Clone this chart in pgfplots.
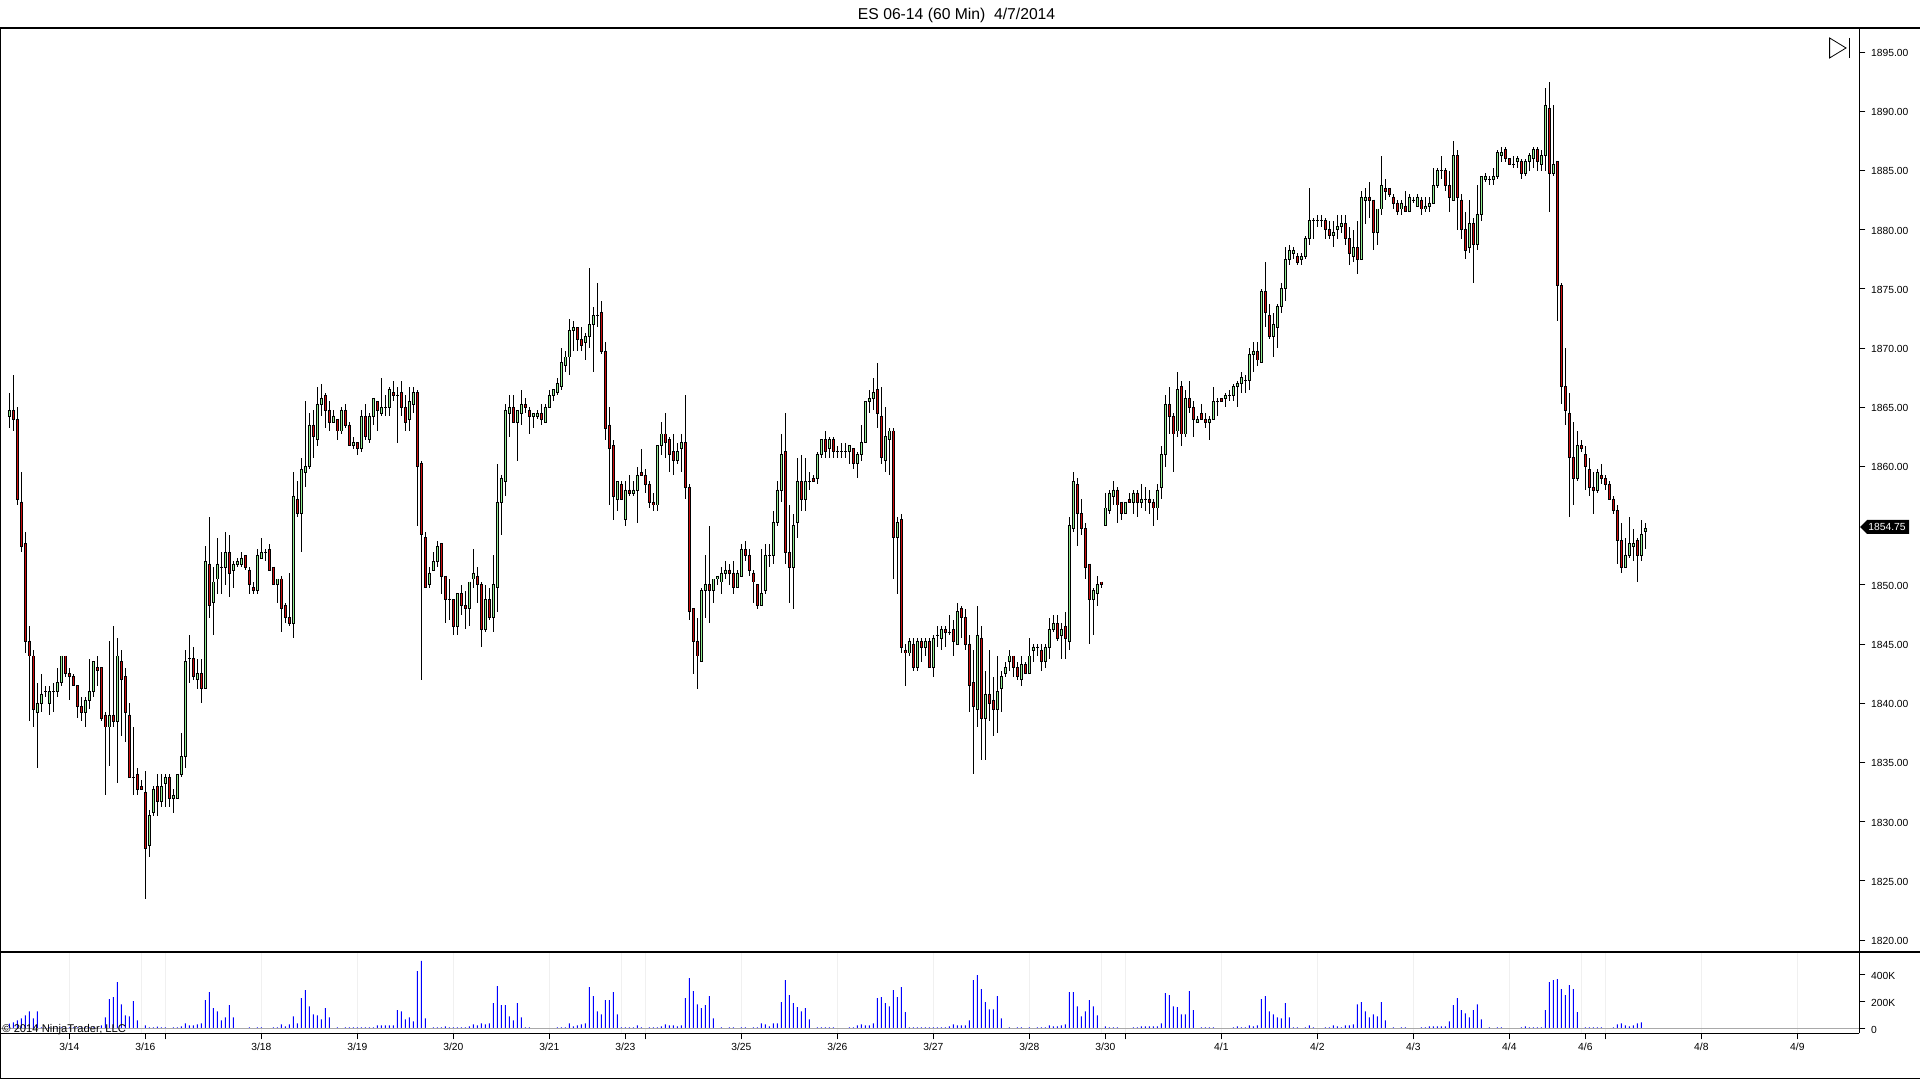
\documentclass[border=0pt]{standalone}
\usepackage{pgfplots}
\usepackage{pgfplotstable}
\usepackage{fontspec}
\setmainfont{Liberation Sans}
\pgfplotsset{compat=1.18}
\definecolor{upbody}{RGB}{144,238,144}
\definecolor{downbody}{RGB}{204,12,12}
\definecolor{gridc}{RGB}{240,240,240}
\definecolor{zeroc}{RGB}{169,169,169}
\pgfplotstableread{
i h l t b d
0 1866.25 1863.25 1864.75 1864.25 1
1 1867.75 1863 1864.75 1864 0
2 1865 1856.75 1864 1857.25 0
3 1859.5 1852.75 1857 1853.25 0
4 1854.5 1844.25 1853.5 1845.25 0
5 1846.5 1838.5 1845.25 1844 0
6 1844.5 1838 1844 1839.5 0
7 1841.75 1834.5 1840 1839.25 1
8 1842.5 1839.25 1840.75 1840 1
9 1841.5 1840.5 1841 1841 1
10 1841.5 1839 1841 1840 1
11 1841.75 1839.25 1841 1841 1
12 1843 1840.5 1841.75 1841 1
13 1844 1841.5 1844 1841.75 1
14 1844 1842.25 1844 1842.5 0
15 1843 1840.25 1842.5 1842.25 0
16 1842.5 1841.5 1842.25 1841.5 0
17 1841.5 1838.75 1841.5 1839.75 0
18 1840.5 1838.5 1839.75 1839.25 0
19 1840.5 1838 1840.25 1839.25 1
20 1843.75 1839.5 1841 1840.25 1
21 1843.5 1840.5 1843.5 1841 1
22 1844 1841.5 1843 1842.75 0
23 1843 1838.5 1843 1838.75 0
24 1839.25 1832.25 1839 1838 0
25 1845.25 1834.75 1839 1838 1
26 1846.5 1838 1839 1838.5 0
27 1845.5 1833.25 1844 1838.5 1
28 1844.5 1837.25 1843.5 1842 0
29 1843 1836.75 1842.25 1839.25 0
30 1840 1833.75 1839 1833.75 0
31 1838 1832.25 1833.75 1833.75 1
32 1834.5 1832.25 1834 1832.75 0
33 1833.5 1832.75 1833 1832.75 0
34 1834.25 1823.5 1832.5 1827.75 0
35 1831 1827 1830.5 1828 1
36 1833 1830.5 1832.75 1830.75 1
37 1834 1830.5 1833 1831.75 0
38 1834 1831.25 1833 1831.75 1
39 1834 1831.25 1833.75 1833.25 1
40 1834 1831.25 1833.75 1832 0
41 1832.75 1830.75 1832.25 1832 1
42 1834 1832 1834 1832 1
43 1837.5 1833.75 1835.5 1834 1
44 1844.5 1834.5 1843.5 1835.5 1
45 1845.75 1841.75 1843.75 1843.75 1
46 1844.75 1842 1843.75 1842.25 0
47 1843.75 1841.25 1842.5 1842 1
48 1843.75 1840 1842.5 1841.25 0
49 1853.25 1841.25 1852 1841.25 1
50 1855.75 1847.25 1851.75 1848.25 0
51 1851.5 1845.75 1850.25 1848.5 1
52 1854 1849.25 1851.75 1850.5 1
53 1852.75 1849.25 1851.5 1851.5 1
54 1854.5 1850 1852.75 1851.5 1
55 1854.25 1849 1852.75 1851 0
56 1852 1849.75 1851.75 1851.25 1
57 1852.25 1851.5 1852 1851.75 1
58 1852.75 1851.5 1852.25 1851.75 1
59 1852.5 1851.25 1852.5 1851.5 0
60 1851.5 1849.25 1851.25 1850 0
61 1850.25 1849.25 1849.75 1849.5 0
62 1853 1849.25 1852.5 1849.5 1
63 1854 1852.25 1852.75 1852.25 1
64 1853 1852 1852.75 1852.75 1
65 1853.5 1851.25 1853 1851.25 0
66 1851.5 1850 1851.5 1850 0
67 1850.5 1848.5 1850.5 1850 1
68 1850.75 1846 1850.5 1848 0
69 1848.5 1846.75 1848.25 1847.25 0
70 1851 1846.5 1847.25 1846.75 0
71 1859.5 1845.5 1857.5 1846.75 1
72 1858.75 1855.75 1857.25 1856 0
73 1860.75 1852.75 1859.75 1856 1
74 1865.5 1858.25 1860 1859.5 1
75 1864.5 1859.75 1863.5 1860 1
76 1864.75 1860.75 1863.5 1862.5 0
77 1866.75 1861.75 1865.25 1862.25 1
78 1867 1864.25 1865.75 1865.25 1
79 1866.25 1863.25 1866 1864.75 0
80 1865.5 1863 1864.75 1863.75 0
81 1864.75 1863.75 1864.25 1863.75 1
82 1864 1862.25 1864 1863 0
83 1865 1862.75 1864.75 1863 1
84 1865.25 1863.25 1864.75 1863.5 0
85 1863.75 1861.75 1863.5 1861.75 0
86 1862.5 1861.5 1862 1861.75 1
87 1862 1861 1862 1861.5 0
88 1864.75 1861.25 1864.25 1861.5 1
89 1865.25 1862.25 1864.25 1862.5 0
90 1864.5 1862 1864.25 1862.25 1
91 1865.75 1863.5 1865.75 1864.25 1
92 1865.5 1863 1865.5 1864.75 0
93 1867.5 1864.25 1865 1864.5 1
94 1866 1864.25 1865 1865 1
95 1866.75 1864.25 1866.5 1865 1
96 1867.25 1865.5 1866.25 1866 0
97 1866.75 1862 1866 1866 1
98 1867.25 1864.25 1866.25 1865 0
99 1866 1863 1865 1863.75 0
100 1866.75 1863 1865.5 1864 1
101 1866.75 1864.5 1866.25 1865.25 1
102 1866.5 1855 1866.25 1860 0
103 1860.5 1842 1860.25 1854.25 0
104 1854.5 1849.75 1854 1849.75 0
105 1851.5 1849.75 1851 1850 1
106 1852.75 1851.25 1852 1851.25 1
107 1853.75 1851.5 1853.25 1852 1
108 1853.5 1849.25 1853.5 1850.75 0
109 1850.75 1846.75 1850.75 1848.75 0
110 1850.5 1847 1848.75 1848.75 1
111 1848.75 1845.75 1848.75 1846.5 0
112 1849.25 1845.75 1849.25 1846.5 1
113 1850 1847.5 1849.25 1848.25 0
114 1849.5 1846.25 1848.25 1848 0
115 1850.25 1846.5 1850.25 1848 1
116 1853 1849.75 1851 1850.5 1
117 1851.5 1848.5 1850.75 1850 0
118 1850.25 1844.75 1850 1846.25 0
119 1850 1846 1848.75 1846.25 1
120 1849.75 1847 1848.75 1847.25 0
121 1852.5 1846 1850 1847.25 1
122 1860.25 1847.75 1857 1849.75 1
123 1859.25 1854.25 1859 1857 1
124 1865.25 1857.5 1864.75 1858.75 1
125 1866 1862.5 1865 1864.5 1
126 1866 1863.75 1865 1863.75 0
127 1864.75 1860.5 1864.75 1863.75 1
128 1866.5 1863.5 1865.25 1864.5 1
129 1865.75 1864.5 1865.25 1865 0
130 1865 1862.75 1864.75 1864.25 0
131 1864.5 1863.25 1864.5 1864.25 1
132 1864.75 1864 1864.5 1864.25 1
133 1865.25 1863.5 1864.5 1864 0
134 1865.25 1863.75 1865 1863.75 1
135 1866.5 1865 1866 1865 1
136 1866.5 1865.5 1866.5 1866 1
137 1867.5 1866 1867 1866.25 1
138 1870 1866.5 1868.75 1866.75 1
139 1869.75 1868 1869.25 1868.5 1
140 1872.5 1867.75 1871.5 1869.25 1
141 1872.25 1869.75 1871.75 1871.5 1
142 1871.75 1869.75 1871.75 1870.75 0
143 1871.75 1869.75 1870.75 1870.25 0
144 1871.25 1869 1871 1870.5 1
145 1876.75 1870 1872 1871 1
146 1873.5 1868 1872.75 1872 1
147 1875.5 1871.75 1872.75 1872.75 1
148 1874 1869.5 1873 1869.75 0
149 1870.5 1862.25 1869.75 1863.25 0
150 1865 1856.75 1863.5 1861.5 0
151 1862.25 1855.5 1861.75 1857.5 0
152 1858.75 1856.25 1858.75 1857.25 1
153 1858.75 1857.25 1858.5 1857.25 0
154 1858.75 1855 1858 1855.5 1
155 1859.25 1857.5 1858 1857.75 0
156 1858.75 1857.5 1858 1857.75 1
157 1860 1855.25 1859.25 1858 1
158 1861.5 1859.25 1859.5 1859.25 0
159 1859.75 1857.75 1859.25 1858.5 0
160 1858.75 1856.5 1858.5 1857 0
161 1857.75 1856.25 1857 1856.75 0
162 1861.75 1856.25 1861.75 1856.75 1
163 1863.75 1861 1862.75 1861.75 1
164 1864.5 1860.75 1862.75 1862 0
165 1862.5 1859.5 1862.25 1861 0
166 1862.75 1859.25 1861.25 1860.5 0
167 1862 1860.25 1861.25 1860.5 1
168 1862.75 1859.5 1862 1861.5 1
169 1866 1857.25 1862 1858.25 0
170 1858.5 1847 1858.25 1847.75 0
171 1848 1842.5 1848 1845.25 0
172 1847.25 1841.25 1845.25 1844 0
173 1849.75 1843.5 1849.5 1843.5 1
174 1852.5 1847.25 1850 1849.5 1
175 1855 1846.75 1850 1849.5 0
176 1850.5 1848.5 1850.5 1849.5 1
177 1850.75 1850 1850.75 1850.5 1
178 1851.5 1849.25 1851 1850.25 1
179 1852 1850.5 1851.25 1851 1
180 1851.75 1850 1851.25 1851 0
181 1852 1849.25 1851 1849.75 0
182 1851.25 1849.75 1851 1849.75 1
183 1853.5 1850.75 1853 1850.75 1
184 1853.75 1852 1853 1852.5 0
185 1853 1850.75 1852.5 1851.25 0
186 1851.25 1848.5 1851 1850.25 0
187 1850 1848 1850 1848.25 0
188 1853 1848.25 1849.25 1848.25 1
189 1853.5 1849.25 1852.5 1849.5 1
190 1853.5 1851.5 1852.5 1852.5 1
191 1856.25 1851.75 1855.25 1852.5 1
192 1858.75 1855 1858 1855.25 1
193 1862.75 1857 1861 1858 1
194 1864.5 1851.75 1861.25 1852.75 0
195 1856.75 1848.5 1852.75 1851.5 0
196 1856 1848 1855 1851.5 1
197 1860.75 1854 1858.75 1855.25 1
198 1861 1856.25 1858.75 1857.25 0
199 1860.75 1856.25 1858.75 1857.25 1
200 1859.5 1858 1858.75 1858.75 1
201 1859.25 1858.75 1859 1858.75 0
202 1861.25 1858.5 1861 1859 1
203 1862.25 1860.75 1862.25 1861 1
204 1863 1860.75 1862.25 1861.25 0
205 1862.5 1860.75 1862.25 1861.5 1
206 1862.5 1860.75 1862.25 1861.25 0
207 1861.75 1860.75 1861.25 1861.25 1
208 1862 1860.75 1861.25 1861.25 1
209 1862 1860.75 1861.25 1861.25 1
210 1861.75 1860.25 1861.75 1861.25 1
211 1861.5 1859.75 1861.5 1860.25 0
212 1861.25 1859 1861 1860.25 1
213 1863.5 1860.5 1862 1861 1
214 1865.5 1862 1865.5 1862 1
215 1866.5 1864.5 1865.75 1865.5 1
216 1867.5 1864.75 1866.25 1865.75 1
217 1868.75 1863.25 1866.5 1864.5 0
218 1866.75 1860.25 1864.25 1860.75 0
219 1865 1859.5 1862.5 1860.5 1
220 1863.25 1859.25 1863 1862.25 1
221 1863.25 1850.5 1863 1854 0
222 1855.75 1849.25 1855.25 1854 1
223 1856 1844.25 1855.5 1844.75 0
224 1845 1841.5 1844.5 1844.25 0
225 1845.5 1844 1845.25 1844.25 1
226 1845.5 1842.75 1845 1843 0
227 1845.5 1842.75 1845.25 1843 1
228 1845.5 1843.5 1845.25 1844.75 0
229 1845.5 1844 1845.25 1844.75 1
230 1845.5 1843 1845.25 1843 0
231 1845.75 1842.25 1845.5 1843 1
232 1846.5 1844.75 1845.75 1845.75 1
233 1846.5 1844.5 1846.25 1845.5 1
234 1846.5 1844.75 1846.25 1846 0
235 1847.5 1845.75 1846 1846 1
236 1847 1844 1846.25 1845.25 0
237 1848.5 1845 1847.75 1845 1
238 1848.25 1845.5 1848 1847.25 0
239 1848 1844.5 1847.25 1845 0
240 1845.75 1839.25 1845 1841.5 0
241 1844.5 1834 1841.75 1839.75 0
242 1848.25 1838 1845.75 1839.5 1
243 1846.5 1835.25 1845.5 1838.75 0
244 1842.75 1835.25 1840.75 1838.75 1
245 1844.5 1838.5 1840.75 1840 0
246 1842.25 1837.25 1840.25 1839.5 0
247 1844 1837.5 1841 1839.5 1
248 1842.75 1839.25 1842.25 1841.25 1
249 1843.5 1842.25 1843 1842.5 1
250 1844.5 1842.75 1844 1843.5 1
251 1844 1842.25 1844 1843 0
252 1843.5 1842 1843 1842.25 0
253 1844 1841.5 1843.25 1842 1
254 1843.5 1842.5 1843.25 1842.5 0
255 1845.5 1842.5 1844 1842.5 1
256 1845 1843.5 1844.75 1844.5 1
257 1845 1844 1844.75 1844.75 1
258 1845 1842.75 1844.5 1843.5 0
259 1845 1843 1844.75 1843.5 1
260 1847.25 1843.75 1846.25 1844.75 1
261 1847.5 1846 1846.75 1846.25 1
262 1847.5 1845.25 1846.75 1845.5 0
263 1846.75 1843.75 1846.25 1845.75 1
264 1847.75 1843.75 1846.5 1845.5 0
265 1855.75 1844.5 1855 1845.25 1
266 1859.5 1854.5 1858.75 1854.75 1
267 1859 1853.25 1858.5 1856 0
268 1857.25 1854.25 1856 1854.75 0
269 1855.25 1850.5 1854.75 1851.5 0
270 1851.75 1845 1851.75 1848.75 0
271 1849.75 1845.75 1849.5 1848.75 1
272 1850.75 1848.25 1850 1849.25 1
273 1850.25 1849.75 1850.25 1850 0
274 1857.75 1855 1856.5 1855 1
275 1858 1856 1857.75 1856.25 1
276 1858.75 1856.75 1858 1857.5 1
277 1858.25 1855.25 1858 1856.75 0
278 1857 1855.5 1857 1856 0
279 1857 1856 1857 1856 1
280 1857.75 1857 1857.25 1857 0
281 1858 1856 1857.75 1857 1
282 1858 1855.75 1857.75 1857 0
283 1858.5 1856.5 1857.25 1857 1
284 1858.25 1856.25 1857.25 1857.25 1
285 1858 1856 1857.25 1857 0
286 1857.25 1855 1857 1856.5 0
287 1858.5 1855.5 1858 1856.5 1
288 1861.75 1857.25 1861 1858.25 1
289 1866 1860 1865.25 1861 1
290 1866.75 1862.75 1865.25 1864.25 0
291 1864.5 1859.5 1864.25 1862.75 0
292 1868 1862.5 1866.5 1863 1
293 1867.25 1861.75 1866.75 1862.75 0
294 1866.5 1862.5 1865.75 1862.75 1
295 1867.25 1864.5 1865.75 1865 0
296 1865.5 1862.5 1865 1864 0
297 1864.25 1863.75 1864 1863.75 1
298 1865.25 1864 1864.5 1864 0
299 1864.5 1863.25 1864 1863.75 0
300 1864.25 1862.25 1864 1863.75 1
301 1866.75 1864 1865.5 1864 1
302 1865.75 1864.25 1865.5 1865.5 1
303 1865.75 1865.5 1865.75 1865.5 0
304 1866.25 1865 1866 1865.75 1
305 1866.5 1865.5 1866 1866 1
306 1867 1865.5 1866.75 1866 1
307 1867.25 1865 1867 1866.75 1
308 1868 1866.25 1867.5 1867 1
309 1867.75 1866.25 1867.25 1867.25 1
310 1870 1866.5 1869.5 1867.25 1
311 1870.5 1868 1869.75 1869.5 1
312 1870.5 1868.5 1869.75 1869 0
313 1875 1868.75 1874.75 1868.75 1
314 1877.25 1871.75 1874.75 1873 0
315 1873.75 1870.75 1872.75 1871 0
316 1873 1869.25 1872 1871 1
317 1873.75 1870 1873.5 1871.75 1
318 1875.5 1873 1875 1873.5 1
319 1878.5 1874 1877.5 1875 1
320 1878.75 1877 1878.25 1877.5 1
321 1878.5 1877.5 1878.25 1878 1
322 1878 1877 1877.75 1877.25 0
323 1878 1877 1877.75 1877.5 1
324 1879.5 1877.5 1879.25 1877.75 1
325 1883.5 1878.75 1880.75 1879.25 1
326 1881 1879.25 1880.75 1880.75 1
327 1881.25 1880.25 1880.75 1880.75 1
328 1881.25 1880.25 1880.75 1880.75 1
329 1881 1879.25 1880.75 1880 0
330 1880.75 1879.25 1880 1879.5 0
331 1880.75 1878.5 1879.75 1879.5 1
332 1881.25 1879.25 1880.25 1880 1
333 1881.25 1879.75 1880.5 1880.25 1
334 1881.25 1878.75 1880.5 1879.25 0
335 1880.25 1877 1879.25 1878 0
336 1880 1877.25 1878.5 1877.75 1
337 1880.75 1876.25 1878.5 1877.5 0
338 1883.25 1877.5 1882.75 1877.5 1
339 1883.5 1880.5 1882.75 1882.5 1
340 1884 1881 1882.75 1882.5 0
341 1882.5 1878.25 1882.5 1879.75 0
342 1881.75 1878.75 1881.75 1879.75 1
343 1886.25 1881.25 1883.75 1881.75 1
344 1884.25 1882.5 1883.5 1883.25 0
345 1883.5 1882.75 1883.5 1883 0
346 1883 1881.75 1882.75 1882.25 0
347 1882.5 1881.25 1882.25 1881.5 0
348 1882.5 1881.25 1882.25 1881.75 1
349 1883.25 1881.5 1882 1881.5 0
350 1883 1881.5 1882.75 1881.5 1
351 1882.75 1882.25 1882.5 1882.5 1
352 1883 1882 1882.75 1882 1
353 1882.75 1881.25 1882.5 1881.75 0
354 1882.75 1881.5 1882 1881.75 1
355 1882.75 1881.5 1882.25 1882 1
356 1885.25 1882.25 1883.75 1882.25 1
357 1885.25 1883.5 1885 1883.75 1
358 1886.25 1884.25 1885 1885 1
359 1885.25 1883.25 1885 1883.75 0
360 1885 1881.5 1883.75 1882.75 0
361 1887.5 1882.5 1886.25 1882.5 1
362 1886.75 1880 1886.25 1882.75 0
363 1883 1879.25 1882.5 1880 0
364 1881.5 1877.5 1880 1878.25 0
365 1882.5 1878 1880.5 1878.5 1
366 1881 1875.5 1880.5 1878.75 0
367 1883.75 1878.25 1881.25 1878.75 1
368 1884.5 1880.75 1884.5 1881.25 1
369 1884.75 1884 1884.5 1884.25 1
370 1884.5 1883.75 1884.25 1884.25 1
371 1885.25 1883.75 1884.5 1884.25 1
372 1886.75 1884.25 1886.5 1884.5 1
373 1887 1885.75 1886.5 1886.25 1
374 1887 1885.75 1886.75 1886 0
375 1886 1885.5 1886 1885.5 0
376 1886.25 1885.25 1885.5 1885.5 1
377 1886.25 1885.25 1886 1885.75 1
378 1886 1884.25 1885.75 1884.75 0
379 1886 1884.5 1885.75 1884.75 1
380 1886.5 1885 1886.25 1885.75 1
381 1887 1885.25 1886.75 1886 1
382 1887 1885 1886.75 1885.75 0
383 1886.75 1885 1886.25 1885.5 1
384 1892 1885 1890.5 1886.25 1
385 1892.5 1881.5 1890.25 1884.75 0
386 1890.5 1884.5 1885.5 1884.75 1
387 1885.75 1872.25 1885.75 1875.25 0
388 1875.5 1865.25 1875.25 1866.75 0
389 1870 1863.5 1866.75 1864.75 0
390 1866.25 1855.75 1864.5 1860.75 0
391 1863.75 1856.75 1860.75 1859 0
392 1863 1858.75 1861.75 1859 1
393 1862.25 1861.25 1861.75 1861.5 0
394 1861.75 1858 1861 1860 0
395 1860.75 1857.5 1859.75 1858.25 0
396 1859.5 1856 1858.25 1858 0
397 1859.75 1857.75 1859.5 1858 1
398 1860.25 1858.5 1859.25 1859 0
399 1859.25 1858 1859 1858.5 0
400 1858.75 1857.25 1858.5 1857.25 0
401 1857.5 1856 1857.25 1856.25 0
402 1856.75 1851.75 1856.25 1853.75 0
403 1855.25 1851 1853.75 1851.5 0
404 1854 1851.5 1852.5 1851.5 1
405 1855.75 1852.25 1853.5 1852.5 1
406 1854.75 1852 1853.5 1853.25 1
407 1854 1850.25 1853.75 1852.5 0
408 1855.5 1852 1854.25 1852.5 1
409 1855.25 1853 1854.75 1854.5 1
}\ohlc
\pgfplotstableread{
i v
0 37
1 47
2 62
3 77
4 99
5 129
6 77
7 129
8 10
9 10
10 10
11 10
12 10
13 10
14 10
15 10
16 10
17 10
18 10
19 10
20 10
21 10
22 10
23 25
24 84
25 219
26 233
27 345
28 181
29 99
30 92
31 204
32 62
34 25
35 10
36 10
37 15
38 10
39 10
41 10
42 10
43 17
44 40
45 25
46 25
47 32
48 40
49 211
50 271
51 152
52 129
53 62
54 84
55 174
56 84
60 10
62 10
63 10
66 10
67 10
68 32
69 17
70 32
71 92
72 40
73 226
74 286
75 166
76 107
77 99
78 70
79 152
80 84
82 10
84 10
85 10
86 10
87 10
88 10
89 10
90 10
91 10
92 25
93 25
94 25
95 25
96 25
97 137
98 129
99 70
100 84
101 55
102 427
103 502
104 77
106 10
107 10
108 10
109 17
110 10
111 10
112 10
113 10
114 10
115 17
116 32
117 25
118 40
119 32
120 40
121 189
122 315
123 174
124 174
125 92
126 62
127 189
128 84
129 10
130 10
137 10
138 10
139 10
140 40
141 17
142 25
143 32
144 40
145 308
146 241
147 129
148 107
149 211
150 211
151 271
152 107
153 10
154 10
155 10
156 10
157 25
158 10
160 10
161 10
162 10
163 17
164 32
165 25
166 25
167 17
168 25
169 226
170 375
171 278
172 181
173 152
174 174
175 241
176 77
178 10
180 10
181 10
183 10
184 10
186 10
187 10
188 40
189 32
190 17
191 40
192 40
193 196
194 360
195 248
196 189
197 159
198 129
199 152
200 70
202 10
203 10
204 10
205 10
206 10
210 10
211 10
212 25
213 32
214 25
215 25
216 40
217 226
218 233
219 189
220 166
221 286
222 233
223 308
224 122
225 10
226 10
227 10
228 10
229 10
230 10
231 10
232 10
233 10
234 10
235 17
236 32
237 25
238 25
239 25
240 62
241 360
242 397
243 293
244 196
245 144
246 144
247 241
248 77
250 10
252 10
253 10
255 10
257 10
258 10
259 10
260 25
261 17
262 17
263 25
264 32
265 271
266 271
267 166
268 92
269 129
270 211
271 166
272 99
274 17
275 10
276 10
277 10
281 10
282 10
283 17
284 17
285 17
286 17
287 17
288 40
289 263
290 248
291 166
292 159
293 107
294 107
295 278
296 137
298 10
299 10
300 10
301 10
306 10
307 17
308 10
309 10
310 25
311 17
312 25
313 219
314 241
315 129
316 107
317 84
318 77
319 189
320 84
321 10
322 10
324 10
325 25
326 10
329 10
330 10
331 25
332 17
333 10
334 25
335 25
336 32
337 181
338 196
339 129
340 84
341 107
342 92
343 196
344 62
346 10
348 10
349 10
353 10
354 10
355 17
356 17
357 17
358 17
359 17
360 55
361 174
362 226
363 137
364 114
365 84
366 137
367 181
368 70
370 10
372 10
373 10
378 10
379 17
380 10
381 10
382 10
383 10
384 137
385 345
386 360
387 368
388 293
389 248
390 323
391 293
392 122
394 10
395 10
396 10
397 10
398 10
401 10
402 32
403 40
404 25
405 17
406 25
407 40
408 47
}\vol
\def\gridlist{15,33,39,63,87,111,135,153,159,183,207,231,255,273,279,303,327,351,375,393,399,423,447}
\pgfplotsset{
  chartbase/.style={
    scale only axis, width=929.65pt, xmin=-2.333, xmax=462.5,
    axis y line*=right, axis x line*=bottom,
    axis line style={black,line width=0.6pt,-},
    minor xtick=\gridlist, xminorgrids=true,
    minor grid style={gridc,line width=0.6pt},
    minor tick length=0pt,
    tick style={black,line width=0.5pt},
    major tick length=3pt,
    tick align=outside,
    every tick label/.append style={font=\fontsize{5.15}{6}\selectfont},
    yticklabel style={xshift=-0.6pt,yshift=-0.4pt},
    /pgf/number format/assume math mode=true,
  }
}
\begin{document}
\begin{tikzpicture}[x=1pt,y=1pt]
\useasboundingbox (0,0) rectangle (960,539.5);
\begin{axis}[chartbase, name=price, at={(0pt,63.5pt)}, anchor=south west, height=462pt,
  ymin=1819.0, ymax=1897.04, xtick=\empty,
  ytick={1820,1825,1830,1835,1840,1845,1850,1860,1865,1870,1875,1880,1885,1890,1895},
  yticklabel style={/pgf/number format/.cd,fixed,fixed zerofill,precision=2,1000 sep={}},
  clip=true]
\addplot[draw=none,mark=none,forget plot,error bars/.cd,y dir=both,y explicit,error mark=none,
  error bar style={draw=black,line width=0.55pt}]
  table[x=i,y=t,y error plus expr=\thisrow{h}-\thisrow{t},y error minus expr=\thisrow{t}-\thisrow{l}]{\ohlc};
\addplot[draw=none,mark=none,forget plot,error bars/.cd,y dir=minus,y explicit,error mark=none,
  error bar style={draw=black,line width=1.55pt}]
  table[x=i,y expr=\thisrow{t}+0.04,y error minus expr=\thisrow{t}-\thisrow{b}+0.08]{\ohlc};
\addplot[draw=none,mark=none,forget plot,restrict expr to domain={\thisrow{d}}{1:1},
  error bars/.cd,y dir=minus,y explicit,error mark=none,
  error bar style={draw=upbody,line width=0.6pt}]
  table[x=i,y expr=\thisrow{t}-0.04,y error minus expr={max(\thisrow{t}-\thisrow{b}-0.08,0)}]{\ohlc};
\addplot[draw=none,mark=none,forget plot,restrict expr to domain={\thisrow{d}}{0:0},
  error bars/.cd,y dir=minus,y explicit,error mark=none,
  error bar style={draw=downbody,line width=0.6pt}]
  table[x=i,y expr=\thisrow{t}-0.04,y error minus expr={max(\thisrow{t}-\thisrow{b}-0.08,0)}]{\ohlc};
\end{axis}
\begin{axis}[chartbase, name=volume, at={(0pt,22.85pt)}, anchor=south west, height=40.65pt,
  ymin=-34, ymax=568,
  xtick={15,34,39,63,87,111,135,154,159,183,207,231,255,274,279,303,327,351,375,394,399,423,447},
  xticklabels={3/14,3/16,,3/18,3/19,3/20,3/21,3/23,,3/25,3/26,3/27,3/28,3/30,,4/1,4/2,4/3,4/4,4/6,,4/8,4/9},
  xticklabel style={yshift=1.8pt},
  ytick={0,200,400}, yticklabels={0,200K,400K},
  clip=true]
\addplot[ybar,bar width=0.55pt,bar shift=0pt,fill=blue,draw=none,forget plot] table[x=i,y=v]{\vol};
\draw[zeroc,line width=0.6pt] (axis cs:-2.333,0) -- (axis cs:462.5,0);
\end{axis}
% frame lines running beyond the axes
\draw[black,line width=0.6pt] (0,525.5) -- (960,525.5);
\draw[black,line width=0.6pt] (0,63.5) -- (960,63.5);
\draw[black,line width=0.6pt] (0,0.4) -- (960,0.4);
\draw[black,line width=0.9pt] (0.2,0) -- (0.2,525.5);
% title, copyright, last-price tag, end-of-data icon
\node[font=\fontsize{7.85}{9}\selectfont,anchor=center] at (478.3,531.9) {ES 06-14 (60 Min)\ \ 4/7/2014};
\node[font=\fontsize{5.6}{6}\selectfont,anchor=west,inner sep=0pt] at (1,24.9) {\textcopyright{} 2014 NinjaTrader, LLC};
\fill[black] (930,276) -- (933.5,279.5) -- (954.5,279.5) -- (954.5,272.5) -- (933.5,272.5) -- cycle;
\node[font=\fontsize{5.15}{6}\selectfont,text=white,anchor=west,inner sep=0pt] at (934,276) {1854.75};
\draw[black,line width=0.4pt] (914.8,520.5) -- (923,515.5) -- (914.8,510.5) -- cycle;
\draw[black,line width=0.5pt] (924.5,520.5) -- (924.5,510.5);
\end{tikzpicture}
\end{document}
